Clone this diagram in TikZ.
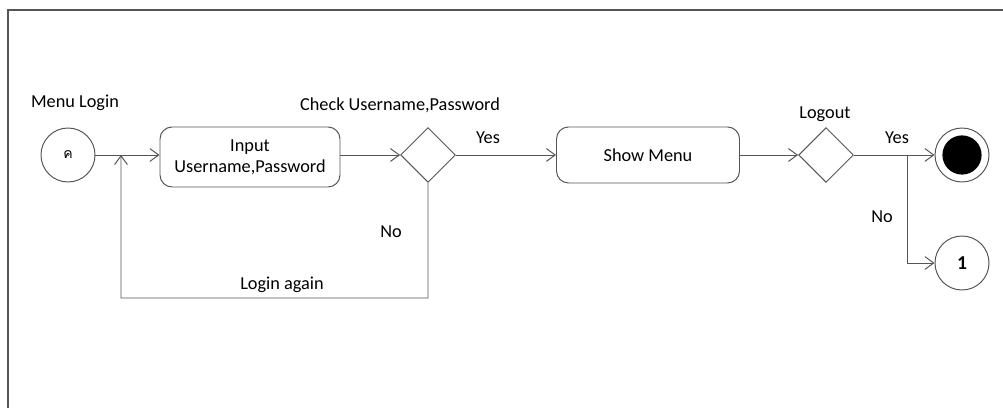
\documentclass[tikz,border=0pt]{standalone}
\usepackage{fontspec}
\setmainfont{Carlito}
\newfontfamily\thaifont[Script=Thai]{Loma}
\usepackage{tikz}
\usetikzlibrary{shapes.geometric,arrows.meta}

\definecolor{linegray}{HTML}{555555}

\tikzset{
  flow/.style={draw=linegray,line width=0.7pt,-{Straight Barb[length=2.2mm,width=3.2mm]}},
  activity/.style={draw=linegray,line width=0.7pt,rounded corners=3mm,align=center,font=\fontsize{13}{15}\selectfont},
  decision/.style={draw=linegray,line width=0.7pt,diamond,aspect=1,inner sep=0pt,minimum size=1.37cm},
  connector/.style={draw=linegray,line width=0.7pt,circle,minimum size=1.35cm,inner sep=0pt},
  label/.style={font=\fontsize{13}{15}\selectfont}
}

\begin{document}
\begin{tikzpicture}
  \useasboundingbox (0,0) rectangle (25.075,-10.2);
  \draw[linegray,line width=1pt] (0.2,-10.2) -- (0.2,-0.25) -- (25.075,-0.25);

  \node[connector,xshift=1.7cm,yshift=-3.875cm](start){\thaifont\fontsize{10}{11}\selectfont ค};
  \node[activity,minimum height=1.5cm,minimum width=4.5cm,xshift=6.25cm,yshift=-3.925cm](input){Input\\Username,Password};
  \node[decision,xshift=10.7cm,yshift=-3.875cm](check){};
  \node[activity,minimum height=1.4cm,minimum width=4.575cm,xshift=16.2cm,yshift=-3.875cm](menu){Show Menu};
  \node[decision,xshift=20.65cm,yshift=-3.875cm](logout){};
  \node[connector,xshift=24.05cm,yshift=-3.875cm](finish){};
  \fill[black] (finish.center) circle (0.49cm);
  \node[connector,xshift=24.05cm,yshift=-6.575cm,font=\fontsize{14}{16}\selectfont\bfseries](one){1};

  \coordinate (merge) at (3.025,-3.875);
  \coordinate (split) at (22.675,-3.875);
  \coordinate (loopA) at (10.7,-7.45);
  \coordinate (loopB) at (3.025,-7.45);

  \draw[flow] (start) -- (input.west |- start);
  \draw[flow] (input.east |- check) -- (check.west);
  \draw[flow] (check.east) -- (menu.west);
  \draw[flow] (menu.east) -- (logout.west);
  \draw[flow] (logout.east) -- (finish.west);
  \draw[flow] (split) |- (one.west);
  \draw[flow] (check.south) -- (loopA) -- (loopB) -- (merge);

  \node[label,xshift=1.875cm,yshift=-2.575cm] {Menu Login};
  \node[label,xshift=10cm,yshift=-2.625cm] {Check Username,Password};
  \node[label,xshift=12.2cm,yshift=-3.45cm] {Yes};
  \node[label,xshift=9.775cm,yshift=-5.8cm] {No};
  \node[label,xshift=7.05cm,yshift=-7.125cm] {Login again};
  \node[label,xshift=20.625cm,yshift=-2.85cm] {Logout};
  \node[label,xshift=22.425cm,yshift=-3.45cm] {Yes};
  \node[label,xshift=22.05cm,yshift=-5.425cm] {No};
\end{tikzpicture}
\end{document}
